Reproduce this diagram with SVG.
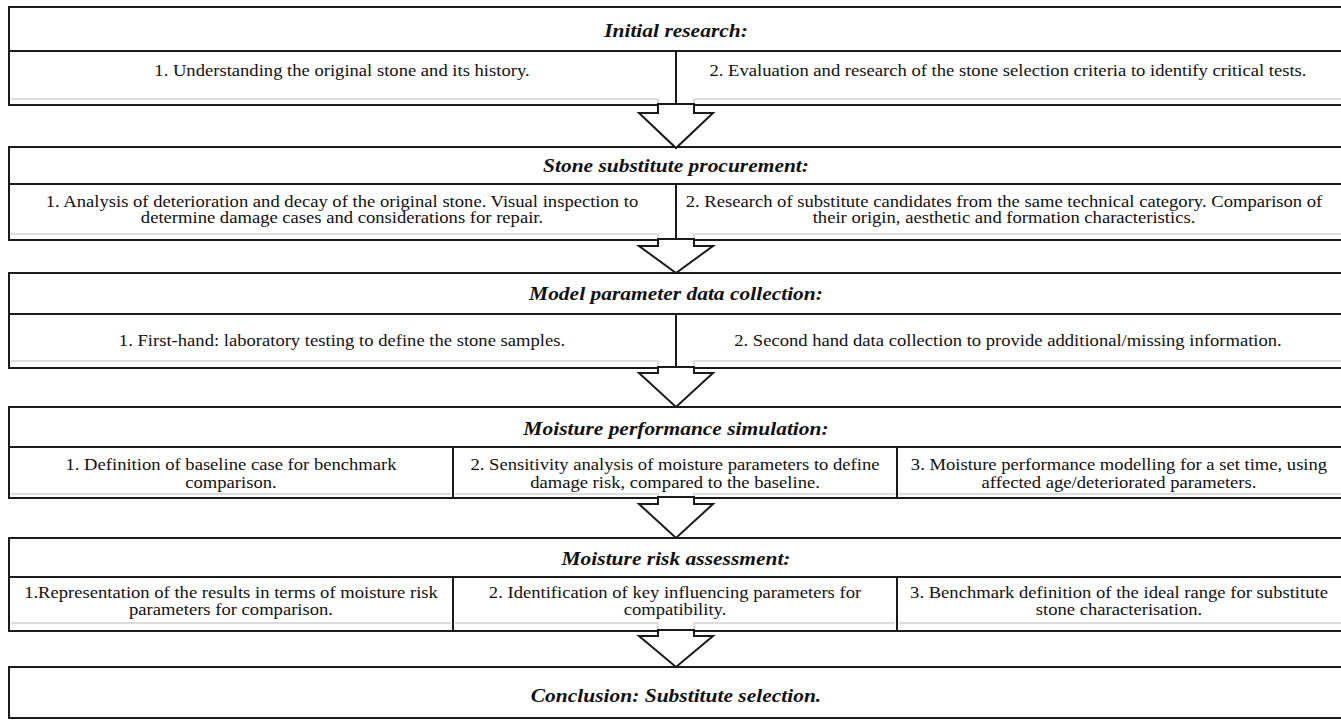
<svg xmlns="http://www.w3.org/2000/svg" width="1341" height="722" viewBox="0 0 1341 722">
<style>
.box{fill:#fff;stroke:#1a1a1a;stroke-width:2}
.ln{stroke:#1a1a1a;stroke-width:2;fill:none}
.gr{stroke:#dcdcdc;stroke-width:2;fill:none}
.arr{fill:#fff;stroke:#1a1a1a;stroke-width:2;stroke-linejoin:miter}
.t{font-family:"Liberation Serif","Times New Roman",serif;font-size:16px;fill:#111;text-anchor:middle}
.h{font-family:"Liberation Serif","Times New Roman",serif;font-size:19px;font-weight:bold;font-style:italic;fill:#111;text-anchor:middle}
</style>
<rect width="1341" height="722" fill="#fff"/>
<g id="s1">
<rect class="box" x="9" y="7" width="1340" height="98"/>
<line class="ln" x1="9" y1="51" x2="1341" y2="51"/>
<line class="ln" x1="676" y1="51" x2="676" y2="105"/>
<polyline class="gr" points="11,99 658,99 658,104"/>
<polyline class="gr" points="694,104 694,99 1341,99"/>
<text class="h" transform="translate(676 37) scale(1.13 1)">Initial research:</text>
<text class="t" transform="translate(342 76) scale(1.163 1)">1. Understanding the original stone and its history.</text>
<text class="t" transform="translate(1008 76) scale(1.163 1)">2. Evaluation and research of the stone selection criteria to identify critical tests.</text>
</g>
<g id="s2">
<rect class="box" x="9" y="147" width="1340" height="93"/>
<line class="ln" x1="9" y1="184" x2="1341" y2="184"/>
<line class="ln" x1="676" y1="184" x2="676" y2="240"/>
<polyline class="gr" points="11,234 658,234 658,239"/>
<polyline class="gr" points="694,239 694,234 1341,234"/>
<text class="h" transform="translate(676 172) scale(1.13 1)">Stone substitute procurement:</text>
<text class="t" transform="translate(342 207) scale(1.163 1)">1. Analysis of deterioration and decay of the original stone. Visual inspection to</text>
<text class="t" transform="translate(342 223) scale(1.163 1)">determine damage cases and considerations for repair.</text>
<text class="t" transform="translate(1004 207) scale(1.163 1)">2. Research of substitute candidates from the same technical category. Comparison of</text>
<text class="t" transform="translate(1004 223) scale(1.163 1)">their origin, aesthetic and formation characteristics.</text>
</g>
<g id="s3">
<rect class="box" x="9" y="273" width="1340" height="95"/>
<line class="ln" x1="9" y1="314" x2="1341" y2="314"/>
<line class="ln" x1="676" y1="314" x2="676" y2="368"/>
<polyline class="gr" points="11,361 658,361 658,367"/>
<polyline class="gr" points="694,367 694,361 1341,361"/>
<text class="h" transform="translate(676 300) scale(1.13 1)">Model parameter data collection:</text>
<text class="t" transform="translate(342 346) scale(1.163 1)">1. First-hand: laboratory testing to define the stone samples.</text>
<text class="t" transform="translate(1008 346) scale(1.163 1)">2. Second hand data collection to provide additional/missing information.</text>
</g>
<g id="s4">
<rect class="box" x="9" y="407" width="1340" height="91"/>
<rect class="box" x="9" y="447" width="444" height="51"/>
<rect class="box" x="453" y="447" width="444" height="51"/>
<rect class="box" x="897" y="447" width="452" height="51"/>
<polyline class="gr" points="11,494 451,494"/>
<polyline class="gr" points="455,494 658,494 658,497"/>
<polyline class="gr" points="694,497 694,494 895,494"/>
<polyline class="gr" points="899,494 1341,494"/>
<text class="h" transform="translate(676 435) scale(1.13 1)">Moisture performance simulation:</text>
<text class="t" transform="translate(231 470) scale(1.163 1)">1. Definition of baseline case for benchmark</text>
<text class="t" transform="translate(231 488) scale(1.163 1)">comparison.</text>
<text class="t" transform="translate(675 470) scale(1.163 1)">2. Sensitivity analysis of moisture parameters to define</text>
<text class="t" transform="translate(675 488) scale(1.163 1)">damage risk, compared to the baseline.</text>
<text class="t" transform="translate(1119 470) scale(1.163 1)">3. Moisture performance modelling for a set time, using</text>
<text class="t" transform="translate(1119 488) scale(1.163 1)">affected age/deteriorated parameters.</text>
</g>
<g id="s5">
<rect class="box" x="9" y="538" width="1340" height="93"/>
<rect class="box" x="9" y="577" width="444" height="54"/>
<rect class="box" x="453" y="577" width="444" height="54"/>
<rect class="box" x="897" y="577" width="452" height="54"/>
<polyline class="gr" points="11,623 451,623"/>
<polyline class="gr" points="455,623 658,623 658,630"/>
<polyline class="gr" points="694,630 694,623 895,623"/>
<polyline class="gr" points="899,623 1341,623"/>
<text class="h" transform="translate(676 565) scale(1.13 1)">Moisture risk assessment:</text>
<text class="t" transform="translate(231 598) scale(1.163 1)">1.Representation of the results in terms of moisture risk</text>
<text class="t" transform="translate(231 615) scale(1.163 1)">parameters for comparison.</text>
<text class="t" transform="translate(675 598) scale(1.163 1)">2. Identification of key influencing parameters for</text>
<text class="t" transform="translate(675 615) scale(1.163 1)">compatibility.</text>
<text class="t" transform="translate(1119 598) scale(1.163 1)">3. Benchmark definition of the ideal range for substitute</text>
<text class="t" transform="translate(1119 615) scale(1.163 1)">stone characterisation.</text>
</g>
<g id="s6">
<rect class="box" x="9" y="667" width="1340" height="51"/>
<text class="h" transform="translate(676 702) scale(1.13 1)">Conclusion: Substitute selection.</text>
</g>
<g id="connectors">
<polygon class="arr" points="658,104 658,113 639,113 676,148 713,113 694,113 694,104"/>
<polygon class="arr" points="658,239 658,246 639,246 676,273 713,246 694,246 694,239"/>
<polygon class="arr" points="658,367 658,373 639,373 676,407 713,373 694,373 694,367"/>
<polygon class="arr" points="658,497 658,504 639,504 676,538 713,504 694,504 694,497"/>
<polygon class="arr" points="658,630 658,636 639,636 676,667 713,636 694,636 694,630"/>
</g>
</svg>
